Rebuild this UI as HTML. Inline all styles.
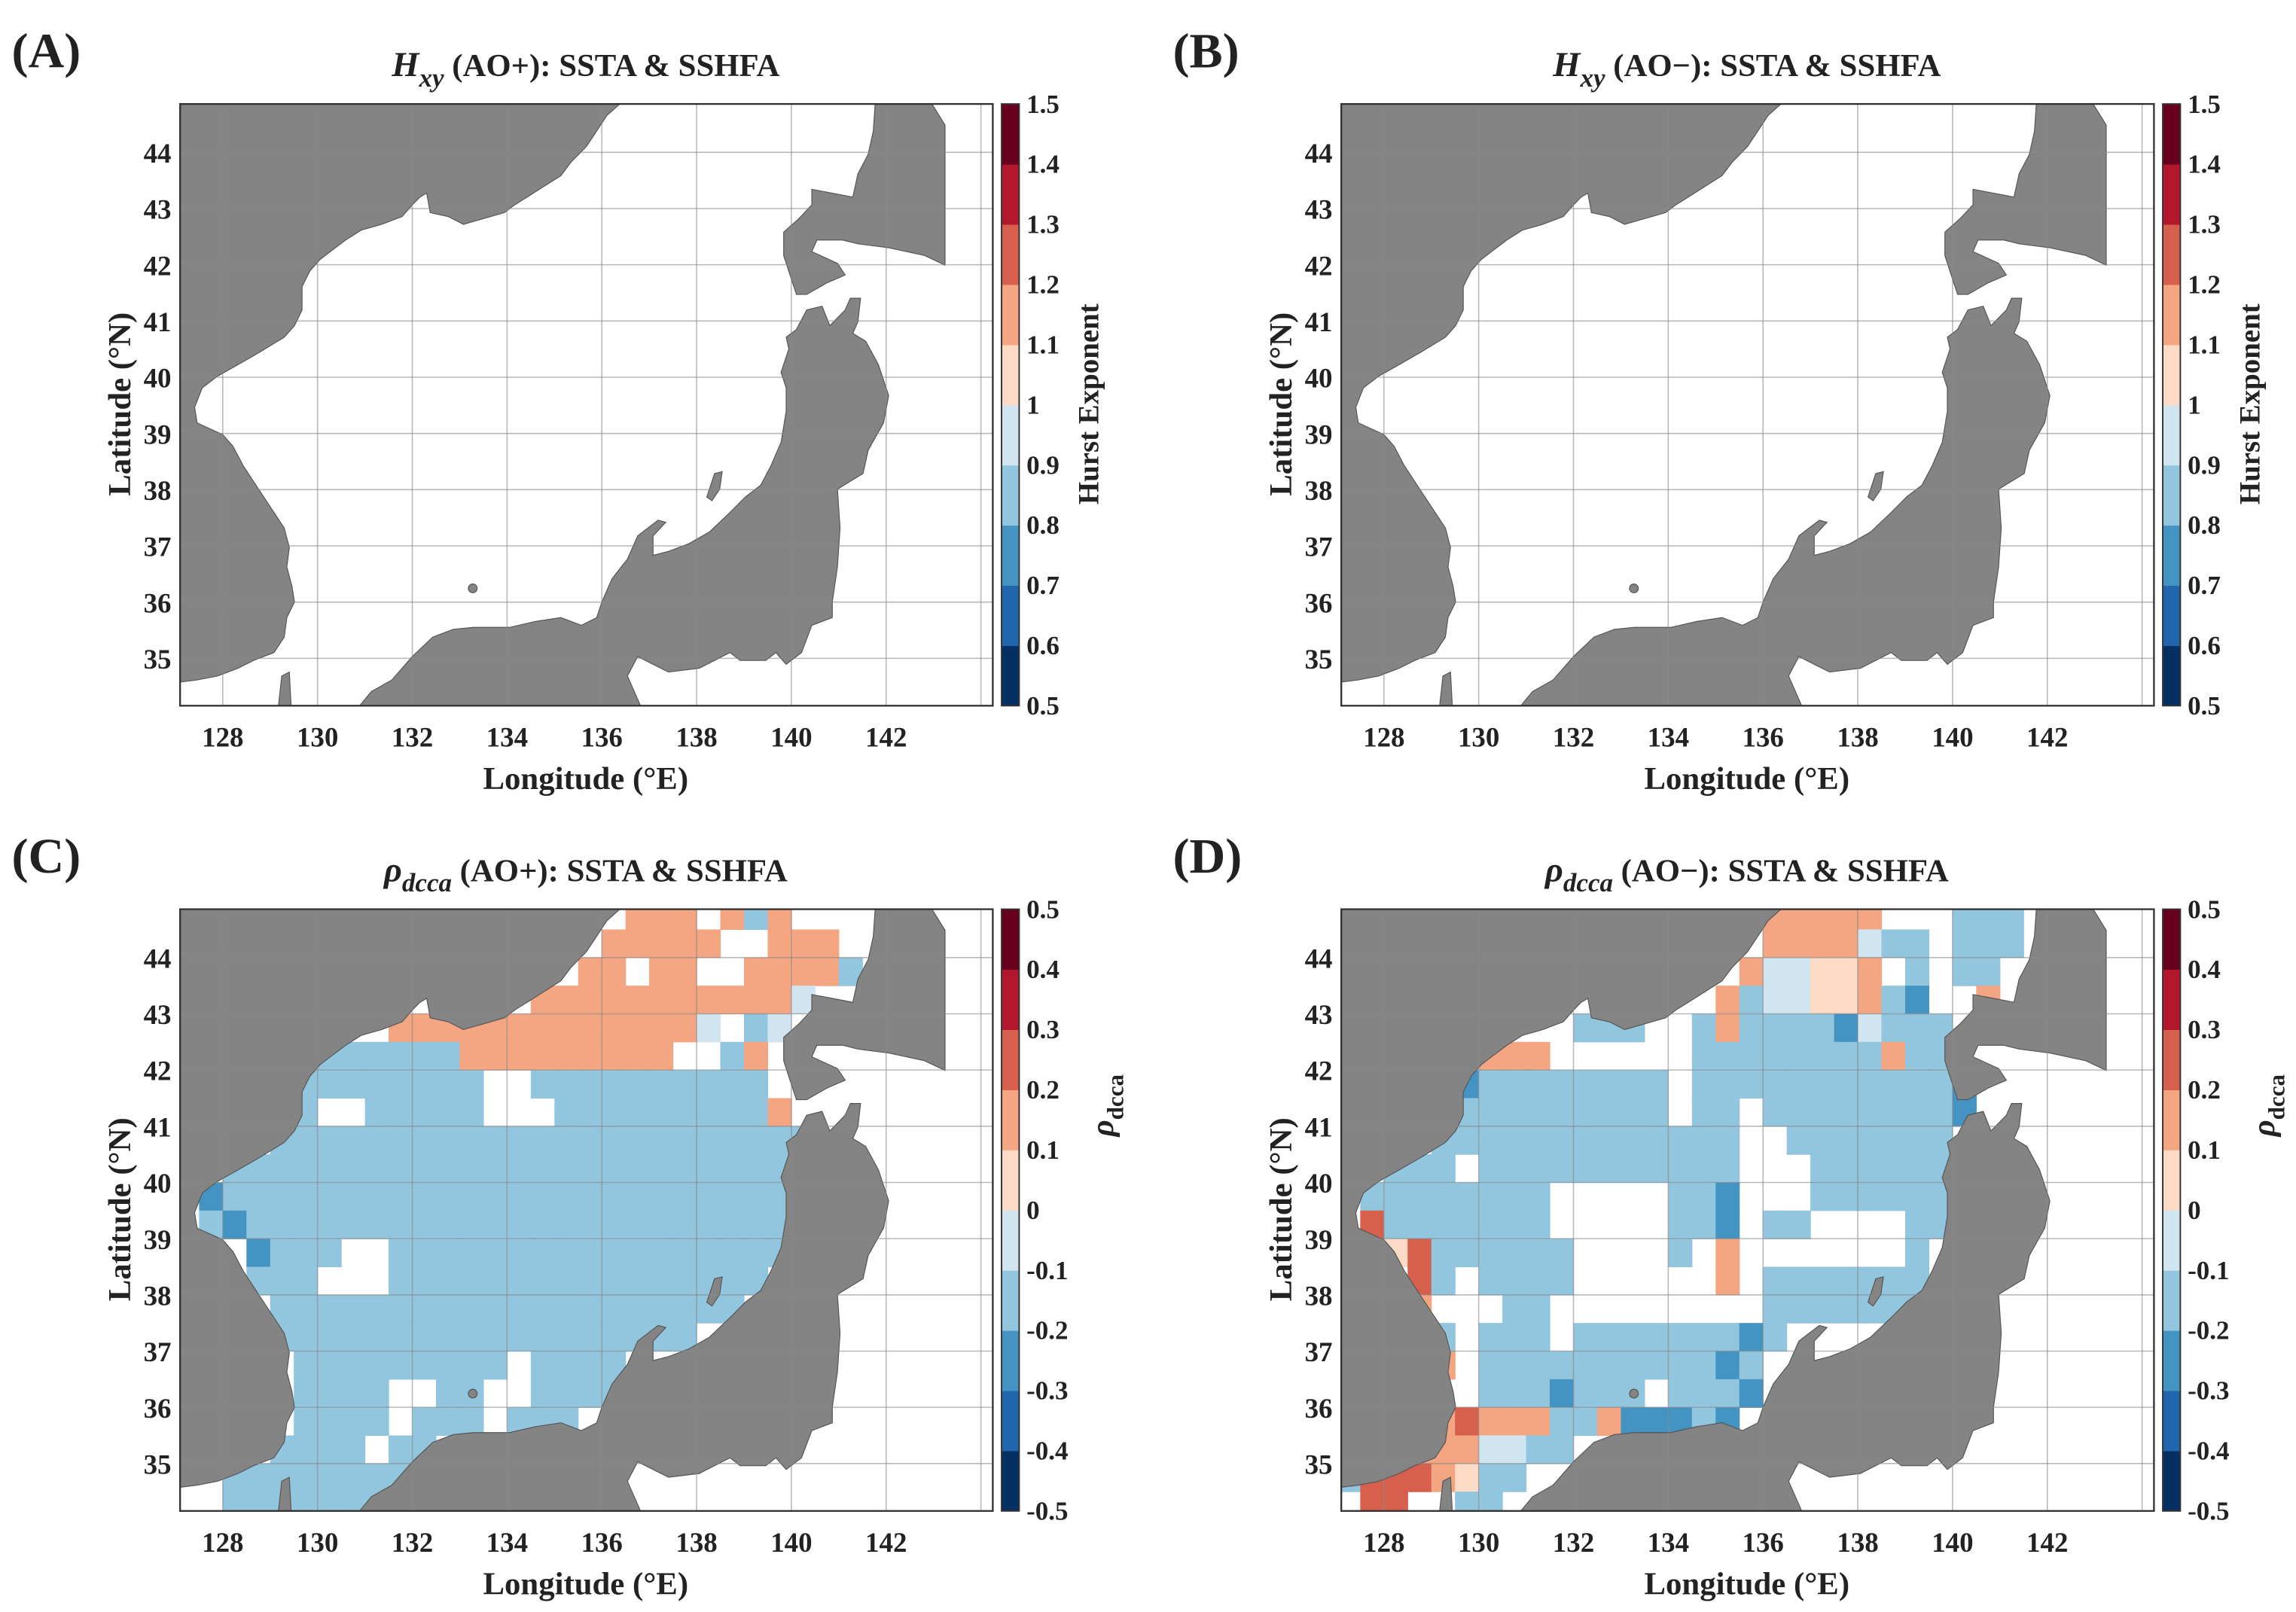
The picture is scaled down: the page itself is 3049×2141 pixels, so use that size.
<!DOCTYPE html>
<html><head><meta charset="utf-8"><style>
html,body{margin:0;padding:0;background:#fff}
svg{display:block}
text{font-family:"Liberation Serif",serif;font-weight:bold;fill:#222}
</style></head><body>
<svg id="fig" width="3049" height="2141" viewBox="0 0 1568 1101" xmlns="http://www.w3.org/2000/svg"></svg>
<script>
// ---- data ----
const lonTicks=[128,130,132,134,136,138,140,142];
const latTicks=[35,36,37,38,39,40,41,42,43,44];
const hurstTicks=['0.5','0.6','0.7','0.8','0.9','1','1.1','1.2','1.3','1.4','1.5'];
const rhoTicks=['-0.5','-0.4','-0.3','-0.2','-0.1','0','0.1','0.2','0.3','0.4','0.5'];
const cmap=['#053061','#2166ac','#4393c3','#92c5de','#d1e5f0','#fddbc7','#f4a582','#d6604d','#b2182b','#67001f'];
const codeValues={b:-0.15,l:-0.05,B:-0.25,p:0.05,o:0.15,r:0.25};
const gridC=[
"...................ooo.obo",
"..................ooooo..ooo",
".................oo.oo..oooob",
"...............oooooooooool",
".........oooooooooooool.bl",
"......bbbbbbooooooooo..bo",
".....bbbbbbbb..bbbbbbbbbb",
".....b..bbbbb...bbbbbbbbbo",
"....bbbbbbbbbbbbbbbbbbbbbbb",
"..bbbbbbbbbbbbbbbbbbbbbbbb",
".Bbbbbbbbbbbbbbbbbbbbbbbbb",
".bBbbbbbbbbbbbbbbbbbbbbbbb",
"...Bbbb..bbbbbbbbbbbbbbbbb",
"...bbb...bbbbbbbbbbbbbbbb",
"....bbbbbbbbbbbbbbbbbbbb",
"....bbbbbbbbbbbbbbbbbb",
".....bbbbbbbbb.bbbb",
".....bbbb..bb..bbbb",
".....bbbb.bbb.bbb",
"....bbbb.bb",
"..bbbbbbbb",
"..bbbbbbb"];
const gridD=[
"..................ooooo...bbb",
"..................oooolbb.bbb",
".................ollppo.b.bb",
"................obllppobB..o",
"..........bbb..bobbbbBlbbb",
"......ooo......bbbbbbbbobb",
"....lBbbbbbbbb.bbbbbbbbbbbB",
".....bbbbbbbbb.bb.bbbbbbbbB",
"....bbbbbbbbbbbbb..bbbbbbb",
"..bbb.bbbbbbbbbbb...bbbbbb",
".bbbbbbbb.....bbB...bbbbbb",
".rbbbbbbb.....bbB.bb....bb",
"..prbbbbbb....b.o.......b",
"...rb.bbbb......o.bbbbbbb",
"...o...bb.........bbbbbbb",
"....b.bbb.bbbbbbbBb",
"....o.bbbbbbbbbbBb",
"......bbbBbbb.bbbB",
"...oorooobboBBBbB",
"...ooollbb",
"brrropbb",
".rr..bb"];

// ---- geometry ----
const NS='http://www.w3.org/2000/svg';
const svg=document.getElementById('fig');
function mk(tag,attrs,parent){const e=document.createElementNS(NS,tag);for(const k in attrs)e.setAttribute(k,attrs[k]);(parent||svg).appendChild(e);return e;}
const W=555,H=411,LON0=127.1,LAT0=44.86,PX=32.36,PY=38.4;
function xs(lon){return (lon-LON0)*PX;}
function ys(lat){return (LAT0-lat)*PY;}
// coastline traced in reference-crop coordinates, converted to lon/lat
function zl(zx){return 128+(zx-90)/92.5;}
function zt(zy){return 44-(zy-135)/144.4;}
const landMain=[[-20,-20],[870,-20],[870,5],[840,40],[820,80],[800,120],[770,160],[750,195],[720,220],[690,245],[660,270],[640,290],[600,305],[560,320],[530,300],[495,290],[488,240],[475,250],[460,270],[440,300],[400,320],[360,335],[330,360],[300,390],[280,410],[260,440],[245,480],[245,540],[230,580],[210,610],[160,650],[120,680],[80,710],[50,740],[35,790],[40,830],[90,860],[110,890],[130,940],[160,1000],[190,1060],[210,1100],[220,1150],[215,1200],[225,1250],[230,1290],[215,1330],[210,1380],[190,1420],[150,1440],[120,1460],[80,1480],[40,1490],[-20,1500]];
const landNorth=[[1365,-20],[1460,-20],[1500,65],[1500,425],[1460,400],[1390,380],[1330,370],[1300,360],[1250,360],[1240,390],[1290,420],[1305,450],[1270,470],[1230,500],[1210,500],[1200,460],[1185,400],[1185,340],[1215,305],[1240,270],[1240,230],[1280,240],[1320,250],[1330,190],[1350,140],[1360,80]];
const landHonshu=[[1230,540],[1260,530],[1275,580],[1305,540],[1315,510],[1335,510],[1330,570],[1320,600],[1345,620],[1370,680],[1390,760],[1380,830],[1350,900],[1340,960],[1290,1000],[1295,1100],[1290,1200],[1280,1290],[1280,1330],[1240,1350],[1220,1420],[1190,1450],[1170,1420],[1150,1440],[1100,1440],[1080,1420],[1020,1460],[960,1470],[900,1430],[880,1480],[920,1600],[330,1600],[380,1520],[420,1490],[460,1430],[500,1380],[540,1360],[580,1355],[650,1355],[700,1340],[750,1330],[790,1350],[820,1330],[830,1290],[850,1230],[880,1180],[900,1120],[920,1100],[940,1080],[955,1085],[930,1120],[930,1170],[960,1160],[1000,1140],[1040,1110],[1080,1060],[1110,1020],[1140,990],[1160,940],[1180,880],[1190,800],[1190,740],[1180,700],[1195,640],[1190,610],[1210,590]];
const landSado=[[1050,960],[1065,955],[1060,1000],[1045,1030],[1035,1020]];
const landKyushuTip=[[195,1600],[205,1480],[220,1470],[225,1600]];

const panels=[
 {id:'A',dx:0,dy:0,title:['H','xy',' (AO+): SSTA & SSHFA'],ticks:hurstTicks,vmin:0.5,cb:'Hurst Exponent',grid:null},
 {id:'B',dx:793,dy:0,title:['H','xy',' (AO\u2212): SSTA & SSHFA'],ticks:hurstTicks,vmin:0.5,cb:'Hurst Exponent',grid:null},
 {id:'C',dx:0,dy:550,title:['\u03c1','dcca',' (AO+): SSTA & SSHFA'],ticks:rhoTicks,vmin:-0.5,cb:'rho',grid:gridC},
 {id:'D',dx:793,dy:550,title:['\u03c1','dcca',' (AO\u2212): SSTA & SSHFA'],ticks:rhoTicks,vmin:-0.5,cb:'rho',grid:gridD}
];
panels.forEach(p=>{
  const g=mk('g',{transform:`translate(${p.dx},${p.dy})`});
  
  
  const lab=mk('text',{x:8,y:46,'font-size':34},g);lab.textContent='('+p.id+')';
  
  const t=mk('text',{x:400,y:52,'font-size':22,'text-anchor':'middle'},g);
  
  const t1=mk('tspan',{'font-style':'italic','font-size':24},t);t1.textContent=p.title[0];
  const t2=mk('tspan',{'font-style':'italic','font-size':18,dy:7},t);t2.textContent=p.title[1];
  const t3=mk('tspan',{dy:-7},t);t3.textContent=p.title[2];
  const cid='clip'+p.id;
  const cp=mk('clipPath',{id:cid},g);mk('rect',{x:0,y:0,width:W,height:H},cp);
  const plot=mk('g',{transform:'translate(123,71)'},g);
  
  const inner=mk('g',{'clip-path':`url(#${cid})`},plot);
  mk('rect',{x:0,y:0,width:W,height:H,fill:'#fff'},inner);
  if(p.grid){
    p.grid.forEach((row,i)=>{
      for(let j=0;j<row.length;j++){
        const c=row[j];if(!(c in codeValues))continue;
        const v=codeValues[c];
        const k=Math.max(0,Math.min(9,Math.floor((v-p.vmin)/0.1+1e-9)));
        const lon=127+0.5*j,lat=45-0.5*i;
        const r=mk('rect',{x:xs(lon),y:ys(lat),width:0.5*PX+0.3,height:0.5*PY+0.3,fill:cmap[k]},inner);
        
        
      }
    });
  }
  [landMain,landNorth,landHonshu,landSado,landKyushuTip].forEach(poly=>{
    const pl=mk('polygon',{points:poly.map(q=>xs(zl(q[0])).toFixed(1)+','+ys(zt(q[1])).toFixed(1)).join(' '),fill:'#848484',stroke:'#555','stroke-width':0.6},inner);
    
  });
  mk('ellipse',{cx:xs(zl(578)),cy:ys(zt(1255)),rx:3,ry:3,fill:'#848484',stroke:'#555','stroke-width':0.6},inner);
  lonTicks.concat([144]).forEach(l=>{mk('line',{x1:xs(l),x2:xs(l),y1:0,y2:H,stroke:'#888','stroke-width':0.8,'stroke-opacity':0.6},inner);});
  latTicks.forEach(l=>{mk('line',{x1:0,x2:W,y1:ys(l),y2:ys(l),stroke:'#888','stroke-width':0.8,'stroke-opacity':0.6},inner);});
  mk('rect',{x:0,y:0,width:W,height:H,fill:'none',stroke:'#333','stroke-width':1.2},plot);
  lonTicks.forEach(l=>{const tx=mk('text',{x:xs(l),y:H+28,'font-size':19,'text-anchor':'middle'},plot);tx.textContent=l;
    });
  latTicks.forEach(l=>{const tx=mk('text',{x:-6,y:ys(l)+7,'font-size':19,'text-anchor':'end'},plot);tx.textContent=l;
    });
  const xl=mk('text',{x:400,y:539,'font-size':22,'text-anchor':'middle'},g);xl.textContent='Longitude (\u00b0E)';
  
  const yl=mk('text',{transform:'translate(89,276) rotate(-90)','font-size':22,'text-anchor':'middle'},g);yl.textContent='Latitude (\u00b0N)';
  
  // colorbar
  const cb=mk('g',{transform:'translate(684,71)'},g);
  
  const sh=H/10;
  cmap.forEach((c,k)=>{mk('rect',{x:0,y:H-(k+1)*sh,width:12,height:sh+0.3,fill:c},cb);});
  mk('rect',{x:0,y:0,width:12,height:H,fill:'none',stroke:'#333','stroke-width':1},cb);
  p.ticks.forEach((s,k)=>{const tx=mk('text',{x:17,y:H-k*sh+6,'font-size':18},cb);tx.textContent=s;
    });
  let cl;
  if(p.cb==='rho'){cl=mk('text',{transform:'translate(760,205) rotate(-90)','font-size':22,'text-anchor':'middle'},g);
    const a=mk('tspan',{'font-style':'italic'},cl);a.textContent='\u03c1';const b=mk('tspan',{dy:7,'font-size':16},cl);b.textContent='dcca';}
  else{cl=mk('text',{transform:'translate(750,276) rotate(-90)','font-size':20,'text-anchor':'middle'},g);cl.textContent=p.cb;}
  
});
</script>
</body></html>
